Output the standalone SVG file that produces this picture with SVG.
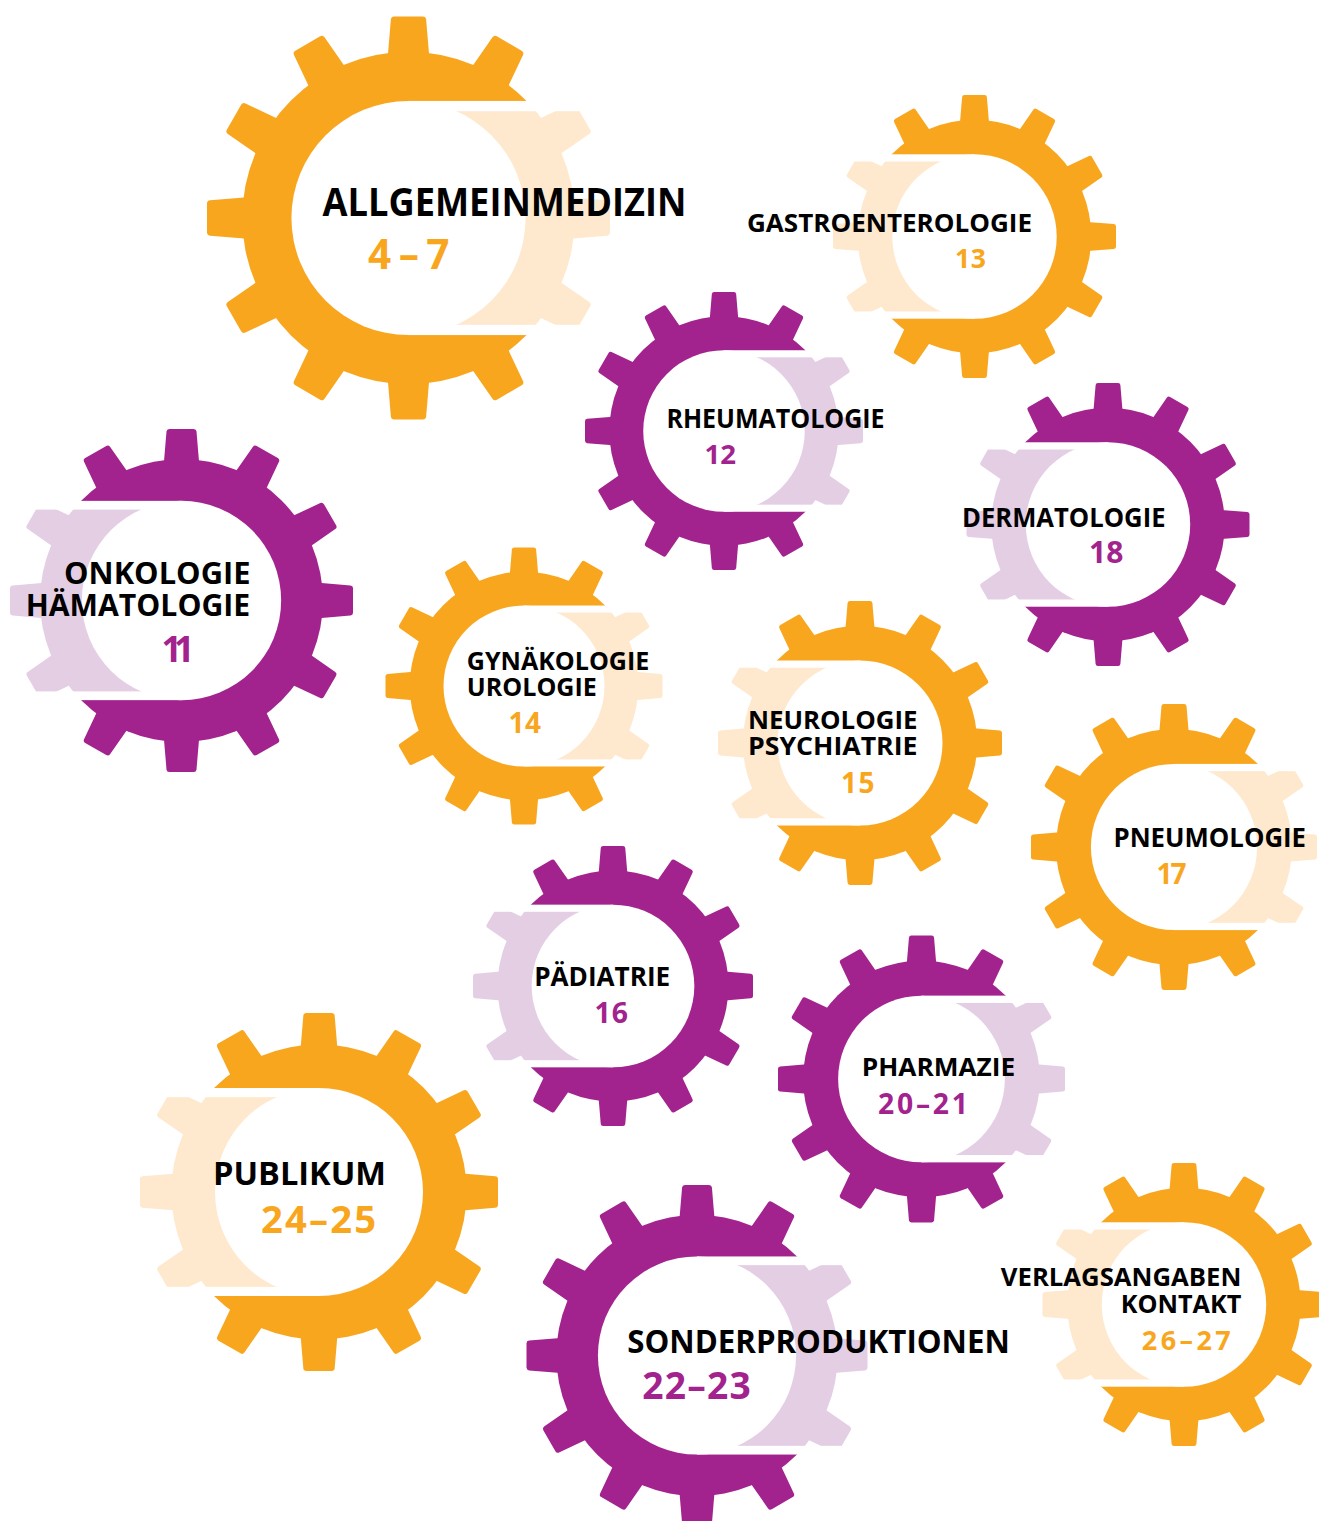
<svg xmlns="http://www.w3.org/2000/svg" xmlns:xlink="http://www.w3.org/1999/xlink" width="1319" height="1521" viewBox="0 0 1319 1521">
<style>
.o{fill:#F9A61F}.ol{fill:#FEE9CE}.p{fill:#A3238E}.pl{fill:#E4CEE4}
.t{font-family:"Open Sans","Noto Sans","Liberation Sans",sans-serif;font-weight:700;fill:#000}
.no{fill:#F9A61F}.np{fill:#A3238E}
</style>
<defs>
<path id="tooth" d="M-10.3,-80 L-8.75,-98.5 Q-8.6,-100 -7.1,-100 L7.1,-100 Q8.6,-100 8.75,-98.5 L10.3,-80 Z"/>
<g id="gs">
<circle r="82.5"/>
<use href="#tooth"/>
<use href="#tooth" transform="rotate(30)"/>
<use href="#tooth" transform="rotate(60)"/>
<use href="#tooth" transform="rotate(90)"/>
<use href="#tooth" transform="rotate(120)"/>
<use href="#tooth" transform="rotate(150)"/>
<use href="#tooth" transform="rotate(180)"/>
<use href="#tooth" transform="rotate(210)"/>
<use href="#tooth" transform="rotate(240)"/>
<use href="#tooth" transform="rotate(270)"/>
<use href="#tooth" transform="rotate(300)"/>
<use href="#tooth" transform="rotate(330)"/>
</g>
<mask id="mD" maskUnits="userSpaceOnUse" x="-105" y="-105" width="210" height="210">
<rect x="-105" y="-105" width="210" height="210" fill="#fff"/>
<circle r="58.1" fill="#000"/>
<rect x="0" y="-58.1" width="105" height="116.2" fill="#000"/>
</mask>
<mask id="mL" maskUnits="userSpaceOnUse" x="-105" y="-105" width="210" height="210">
<rect x="0" y="-53" width="105" height="106" fill="#fff"/>
<circle r="58.1" fill="#000"/>
</mask>
<g id="gearO"><use href="#gs" class="o" mask="url(#mD)"/><use href="#gs" class="ol" mask="url(#mL)"/></g>
<g id="gearP"><use href="#gs" class="p" mask="url(#mD)"/><use href="#gs" class="pl" mask="url(#mL)"/></g>
</defs>
<rect width="1319" height="1521" fill="#fff"/>

<g id="allgemeinmedizin">
<use href="#gearO" transform="translate(408.5,218) scale(2.015)"/>
<text class="t" x="322.5" y="216" font-size="40" textLength="364" lengthAdjust="spacingAndGlyphs">ALLGEMEINMEDIZIN</text>
<text class="t no" x="368" y="269" font-size="40.5" textLength="81.5" lengthAdjust="spacing">4–7</text>
</g>

<g id="gastroenterologie">
<use href="#gearO" transform="translate(974.5,236.5) scale(-1.415,1.415)"/>
<text class="t" x="747" y="231.7" font-size="25.8" textLength="285" lengthAdjust="spacingAndGlyphs">GASTROENTEROLOGIE</text>
<text class="t no" x="955" y="268.3" font-size="26.6" textLength="31" lengthAdjust="spacing">13</text>
</g>

<g id="rheumatologie">
<use href="#gearP" transform="translate(724,431) scale(1.39)"/>
<text class="t" x="666.5" y="428.3" font-size="26.6" textLength="218" lengthAdjust="spacingAndGlyphs">RHEUMATOLOGIE</text>
<text class="t np" x="704.5" y="464" font-size="27.6" textLength="31.5" lengthAdjust="spacing">12</text>
</g>

<g id="dermatologie">
<use href="#gearP" transform="translate(1108,524.5) scale(-1.415,1.415)"/>
<text class="t" x="962" y="527.3" font-size="26.6" textLength="203.5" lengthAdjust="spacingAndGlyphs">DERMATOLOGIE</text>
<text class="t np" x="1089" y="563.3" font-size="30" textLength="34.5" lengthAdjust="spacing">18</text>
</g>

<g id="onkologie">
<use href="#gearP" transform="translate(181.5,600.5) scale(-1.715,1.715)"/>
<text class="t" x="64" y="584.3" font-size="31.2" textLength="186.5" lengthAdjust="spacingAndGlyphs">ONKOLOGIE</text>
<text class="t" x="25.7" y="615.7" font-size="31.2" textLength="224.5" lengthAdjust="spacingAndGlyphs">HÄMATOLOGIE</text>
<text class="t np" x="161.5" y="662.3" font-size="35.8" textLength="33" lengthAdjust="spacing">11</text>
</g>

<g id="gynaekologie">
<use href="#gearO" transform="translate(524,686) scale(1.385)"/>
<text class="t" x="466.8" y="670" font-size="24.6" textLength="182.5" lengthAdjust="spacingAndGlyphs">GYNÄKOLOGIE</text>
<text class="t" x="466.8" y="695.7" font-size="24.6" textLength="130" lengthAdjust="spacingAndGlyphs">UROLOGIE</text>
<text class="t no" x="508.5" y="732.7" font-size="28" textLength="32.5" lengthAdjust="spacing">14</text>
</g>

<g id="neurologie">
<use href="#gearO" transform="translate(860,743) scale(-1.42,1.42)"/>
<text class="t" x="748" y="729.3" font-size="24.6" textLength="169.5" lengthAdjust="spacingAndGlyphs">NEUROLOGIE</text>
<text class="t" x="748" y="755" font-size="24.6" textLength="169.5" lengthAdjust="spacingAndGlyphs">PSYCHIATRIE</text>
<text class="t no" x="841" y="793.3" font-size="28" textLength="33.5" lengthAdjust="spacing">15</text>
</g>

<g id="pneumologie">
<use href="#gearO" transform="translate(1174,847) scale(1.43)"/>
<text class="t" x="1113.5" y="847" font-size="26.9" textLength="192.5" lengthAdjust="spacingAndGlyphs">PNEUMOLOGIE</text>
<text class="t no" x="1156.6" y="884" font-size="28" textLength="30" lengthAdjust="spacing">17</text>
</g>

<g id="paediatrie">
<use href="#gearP" transform="translate(613,986) scale(-1.4,1.4)"/>
<text class="t" x="534.2" y="985.7" font-size="26.2" textLength="136" lengthAdjust="spacingAndGlyphs">PÄDIATRIE</text>
<text class="t np" x="594.6" y="1022.9" font-size="28.4" textLength="33.4" lengthAdjust="spacing">16</text>
</g>

<g id="pharmazie">
<use href="#gearP" transform="translate(921.5,1079) scale(1.435)"/>
<text class="t" x="861.7" y="1075.9" font-size="25.5" textLength="153.5" lengthAdjust="spacingAndGlyphs">PHARMAZIE</text>
<text class="t np" x="878" y="1114.1" font-size="28.3" textLength="90" lengthAdjust="spacing">20–21</text>
</g>

<g id="publikum">
<use href="#gearO" transform="translate(319,1192) scale(-1.79,1.79)"/>
<text class="t" x="213" y="1185" font-size="32.6" textLength="173" lengthAdjust="spacingAndGlyphs">PUBLIKUM</text>
<text class="t no" x="261" y="1233.3" font-size="38.2" textLength="115" lengthAdjust="spacing">24–25</text>
</g>

<g id="sonderproduktionen">
<use href="#gearP" transform="translate(697,1355.5) scale(1.705)"/>
<text class="t" x="627.3" y="1353.3" font-size="32.4" textLength="382.5" lengthAdjust="spacingAndGlyphs">SONDERPRODUKTIONEN</text>
<text class="t np" x="642.3" y="1399.3" font-size="37.2" textLength="108.5" lengthAdjust="spacing">22–23</text>
</g>

<g id="verlagsangaben">
<use href="#gearO" transform="translate(1184,1304.5) scale(-1.415,1.415)"/>
<text class="t" x="1000.8" y="1286" font-size="24.8" textLength="240.5" lengthAdjust="spacingAndGlyphs">VERLAGSANGABEN</text>
<text class="t" x="1120.8" y="1313.3" font-size="24.8" textLength="120.5" lengthAdjust="spacingAndGlyphs">KONTAKT</text>
<text class="t no" x="1141.8" y="1350" font-size="27" textLength="89" lengthAdjust="spacing">26–27</text>
</g>
</svg>
